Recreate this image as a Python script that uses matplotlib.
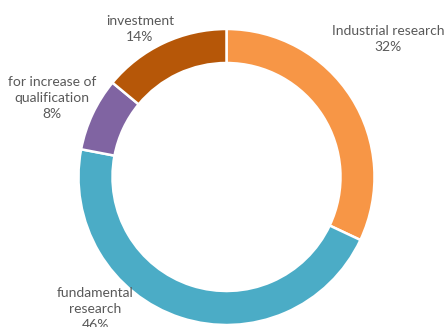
import matplotlib
matplotlib.use("Agg")
import matplotlib.pyplot as plt

# Funding shares by category
categories = ["Industrial research", "fundamental\nresearch", "for increase of\nqualification", "investment"]
shares = [32, 46, 8, 14]
colors = ["#F79646", "#4BACC6", "#8064A2", "#B65708"]

# Label anchor points (pixel coordinates, y measured from the bottom)
label_pos = [(388, 288), (95, 18), (52, 229), (140, 298)]

W, H = 445, 327
fig = plt.figure(figsize=(W / 100, H / 100), dpi=100)
ax = fig.add_axes([0, 0, 1, 1])

ax.pie(shares, colors=colors, startangle=90, counterclock=False,
       radius=148, center=(226.5, 150), frame=True,
       wedgeprops=dict(width=34, edgecolor="white", linewidth=1.8))
ax.set_xlim(0, W)
ax.set_ylim(0, H)
ax.set_aspect("equal")
ax.axis("off")

for name, val, (x, y) in zip(categories, shares, label_pos):
    ax.text(x, y, f"{name}\n{val}%", ha="center", va="center",
            fontsize=10, color="#595959", family="Lato", linespacing=1.4)

fig.savefig("out.png", dpi=100)
